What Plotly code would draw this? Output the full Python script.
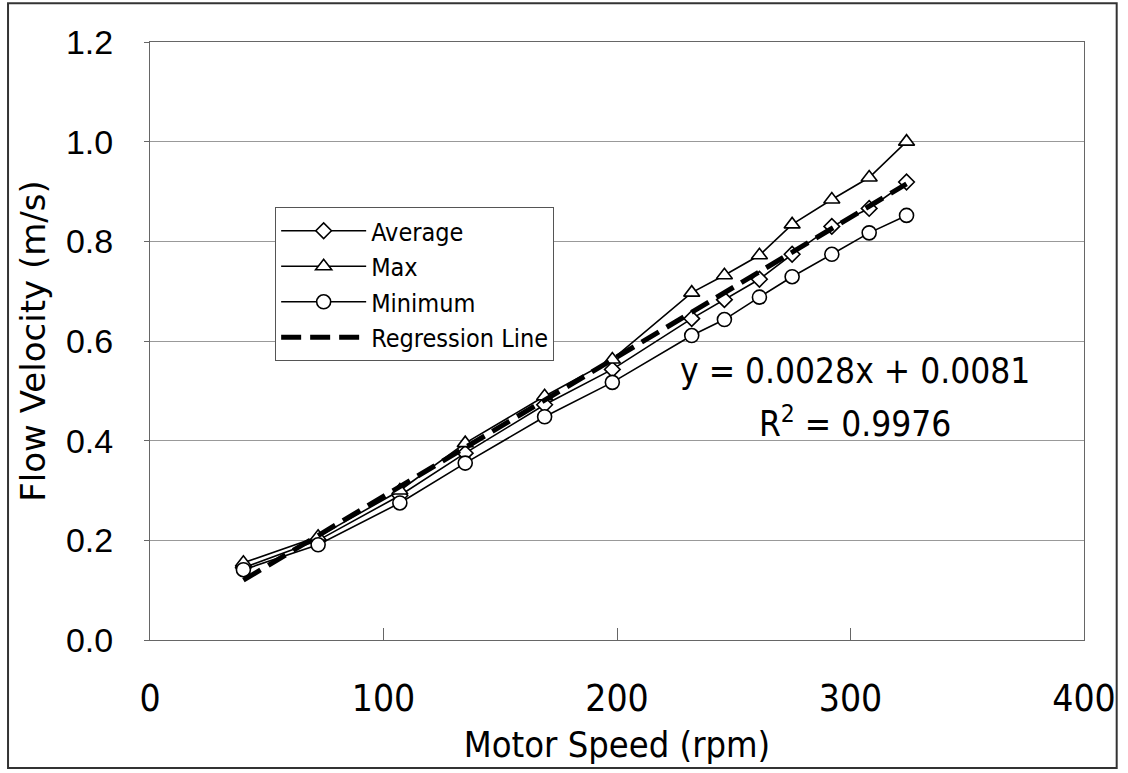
import plotly.graph_objects as go

# Motor speed (rpm) and measured flow velocity (m/s)
motor_speed = [40, 72, 107, 135, 169, 198, 232, 246, 261, 275, 292, 308, 324]
avg_velocity = [0.145, 0.200, 0.290, 0.375, 0.472, 0.543, 0.645, 0.683, 0.724, 0.774, 0.830, 0.866, 0.919]
max_velocity = [0.155, 0.207, 0.300, 0.395, 0.489, 0.563, 0.697, 0.732, 0.772, 0.834, 0.884, 0.928, 1.000]
min_velocity = [0.141, 0.191, 0.275, 0.355, 0.448, 0.517, 0.611, 0.643, 0.688, 0.729, 0.774, 0.817, 0.852]

# Linear regression fit
slope = 0.0028
intercept = 0.0081
r_squared = 0.9976
fit_x = [motor_speed[0], motor_speed[-1]]
fit_y = [slope * v + intercept for v in fit_x]

x_ticks = [0, 100, 200, 300, 400]
y_ticks = [0.0, 0.2, 0.4, 0.6, 0.8, 1.0, 1.2]

NARROW = "DejaVu Sans Condensed"
SANS = "Liberation Sans"

line_style = dict(color="black", width=1.6)

fig = go.Figure()
fig.add_trace(go.Scatter(
    x=motor_speed, y=avg_velocity, name="Average", mode="lines+markers",
    line=line_style,
    marker=dict(symbol="diamond", size=12, color="white", line=dict(color="black", width=1.6)),
))
fig.add_trace(go.Scatter(
    x=motor_speed, y=max_velocity, name="Max", mode="lines+markers",
    line=line_style,
    marker=dict(symbol="triangle-up", size=14, color="white", line=dict(color="black", width=1.6)),
))
fig.add_trace(go.Scatter(
    x=motor_speed, y=min_velocity, name="Minimum", mode="lines+markers",
    line=line_style,
    marker=dict(symbol="circle", size=14, color="white", line=dict(color="black", width=1.6)),
))
fig.add_trace(go.Scatter(
    x=fit_x, y=fit_y, name="Regression Line", mode="lines",
    line=dict(color="black", width=5, dash="20px,9px"),
))

# Fit equation and R² printed beside the lines
fig.add_trace(go.Scatter(
    x=[302, 302], y=[0.533, 0.426], mode="text", showlegend=False, hoverinfo="skip",
    text=[f"y = {slope:.4f}x + {intercept:.4f}", f"R<sup>2</sup> = {r_squared:.4f}"],
    textposition="middle center",
    textfont=dict(family=NARROW, size=35, color="black"),
))

# Outer frame around the whole figure
fig.add_shape(
    type="rect", xref="paper", yref="paper",
    x0=-0.152, x1=1.035, y0=-0.214, y1=1.065,
    line=dict(color="#333333", width=2), fillcolor="rgba(0,0,0,0)",
)

fig.update_xaxes(
    range=[0, 400], tickvals=x_ticks, ticktext=[str(v) for v in x_ticks],
    showgrid=False, zeroline=False,
    showline=True, mirror=True, linecolor="#666666", linewidth=1,
    ticks="inside", ticklen=12, tickcolor="#666666",
    ticklabelstandoff=26,
    tickfont=dict(family=NARROW, size=37, color="black"),
    title=dict(text="Motor Speed (rpm)", font=dict(family=NARROW, size=36, color="black"), standoff=12),
)
fig.update_yaxes(
    range=[0, 1.2], tickvals=y_ticks, ticktext=[f"{v:.1f}" for v in y_ticks],
    showgrid=True, gridcolor="#999999", gridwidth=1, zeroline=False,
    showline=True, mirror=True, linecolor="#666666", linewidth=1,
    ticks="outside", ticklen=5, tickcolor="#666666",
    ticklabelstandoff=24,
    tickfont=dict(family=SANS, size=34, color="black"),
    title=dict(text="Flow Velocity (m/s)", font=dict(family="DejaVu Sans", size=34, color="black"), standoff=10),
)

fig.update_layout(
    width=1128, height=773,
    margin=dict(l=150, r=38, t=42, b=133),
    paper_bgcolor="white", plot_bgcolor="white",
    showlegend=True,
    legend=dict(
        x=0.134, y=0.724, xanchor="left", yanchor="top",
        bgcolor="white", bordercolor="#555555", borderwidth=1,
        font=dict(family=NARROW, size=25, color="black"),
        itemwidth=85, tracegroupgap=0,
    ),
)

fig.write_html("out.html")
